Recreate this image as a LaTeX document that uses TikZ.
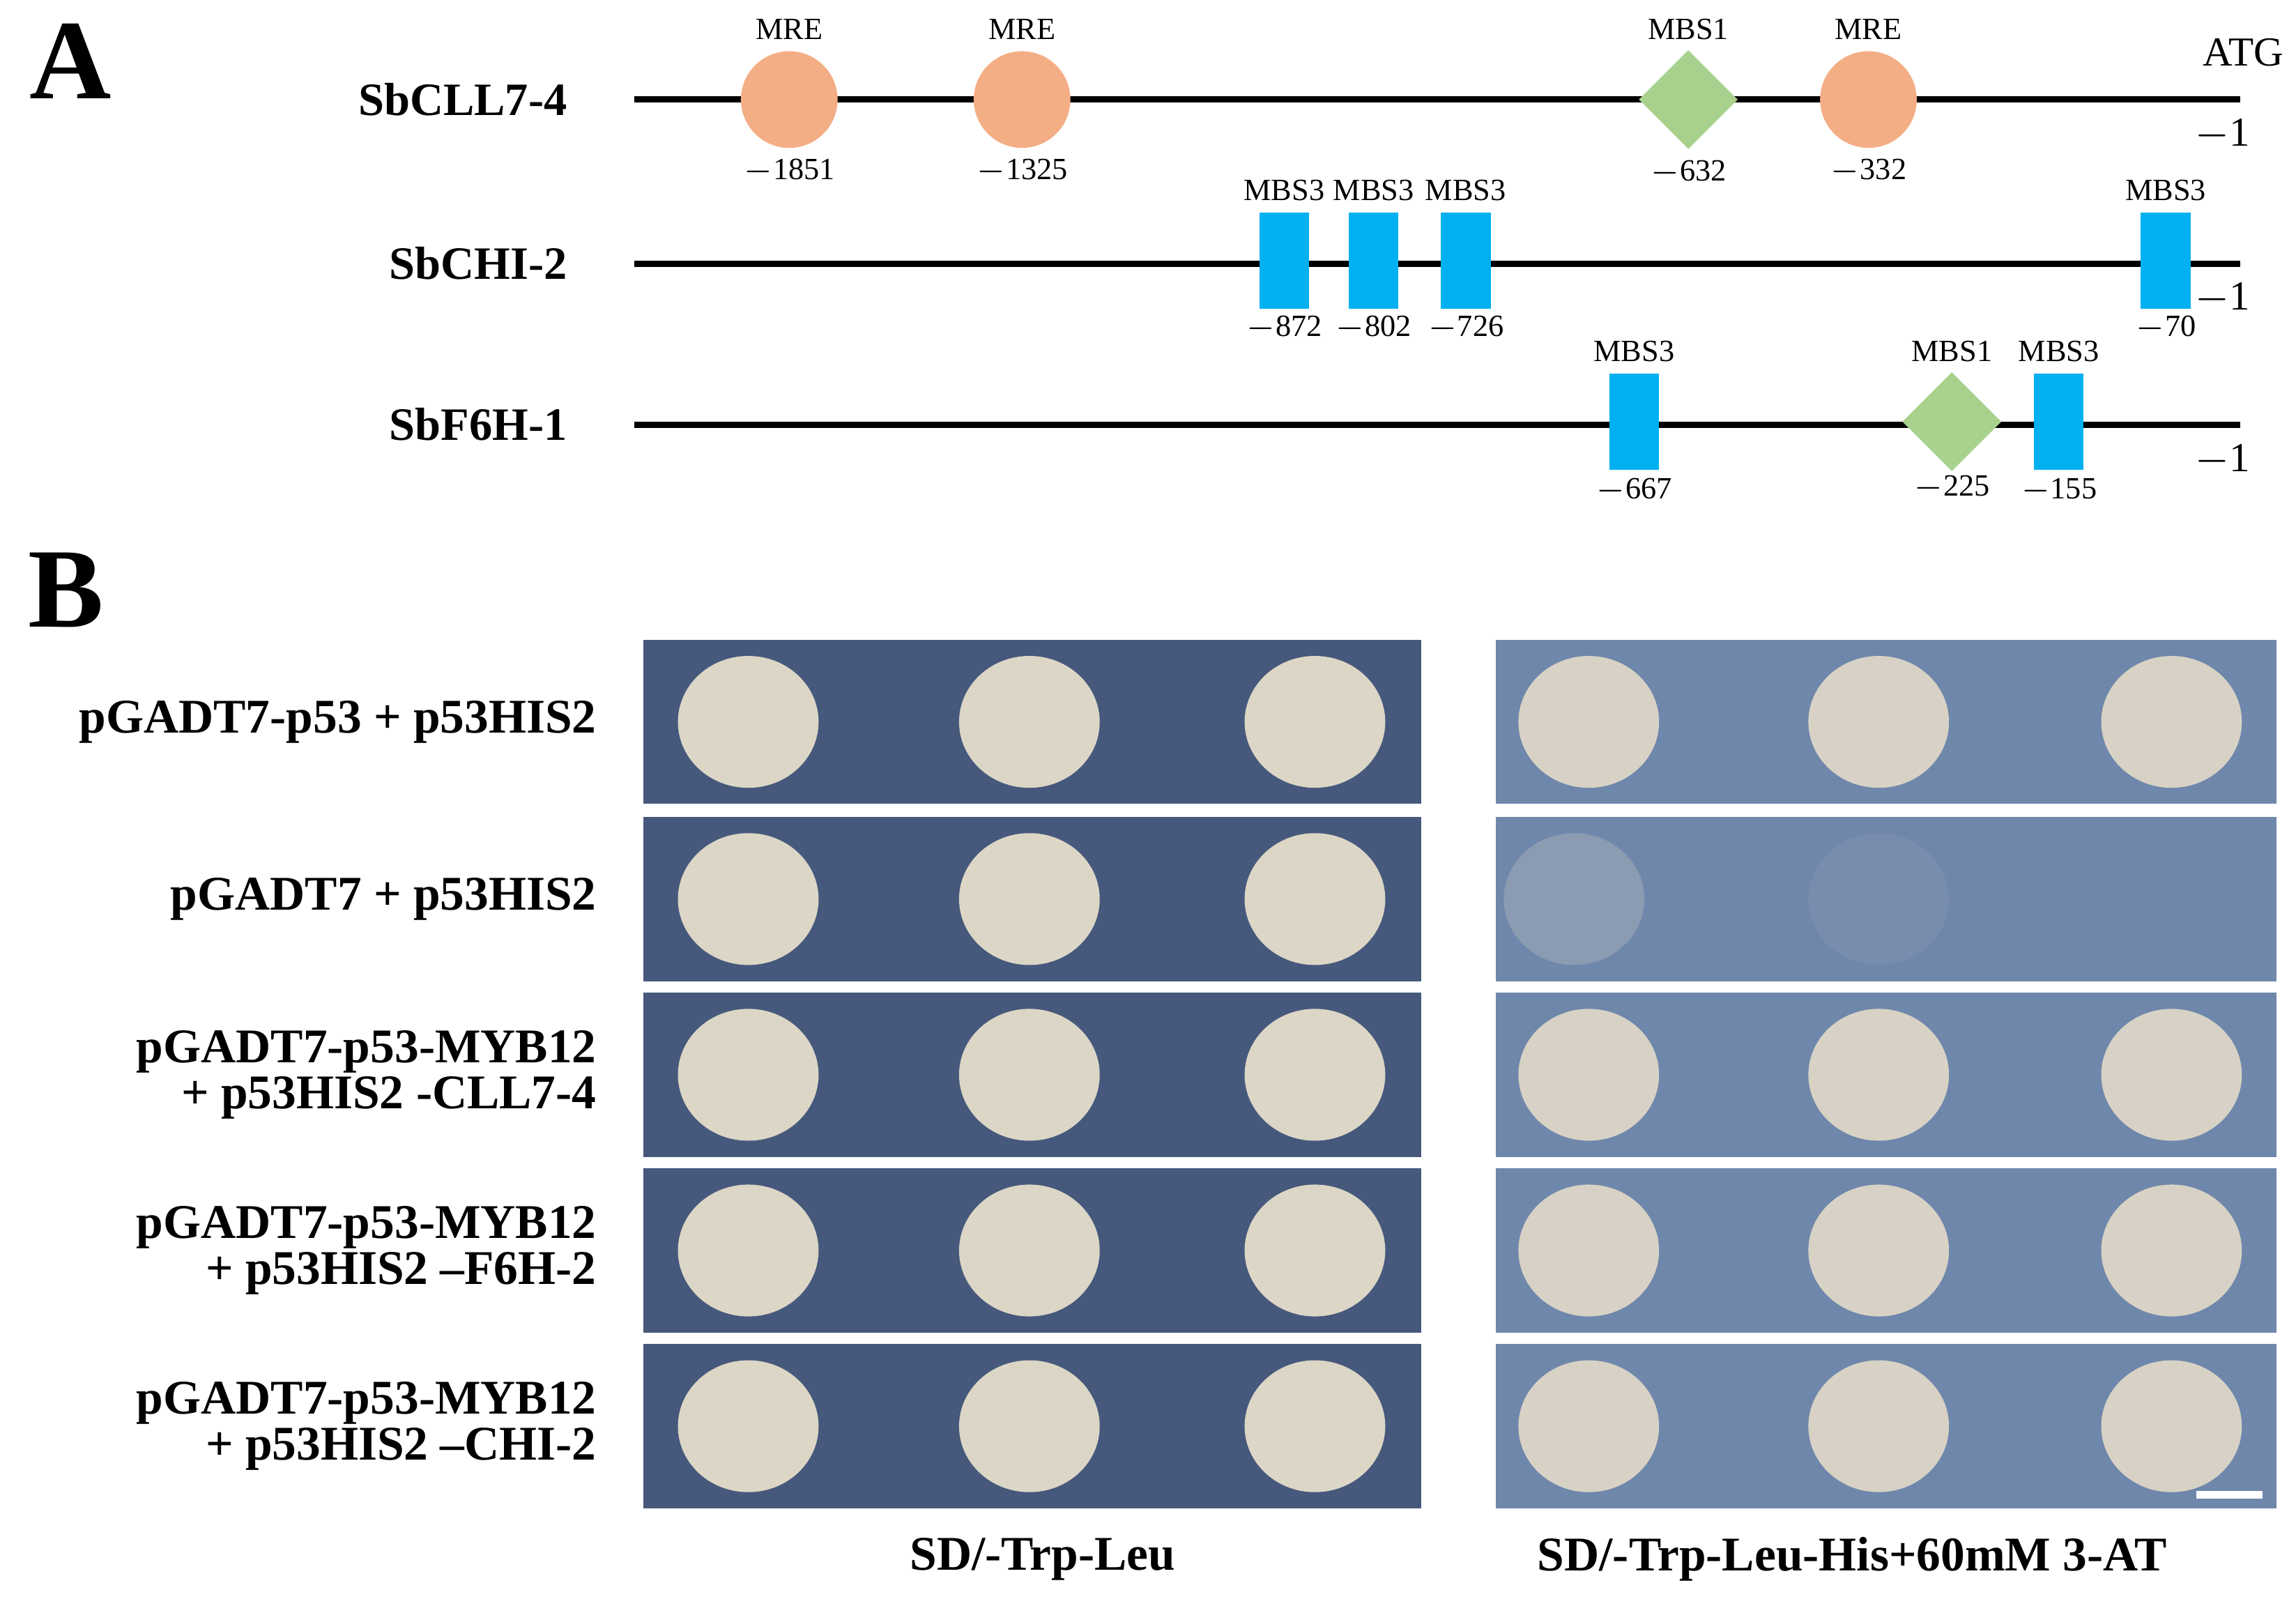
\documentclass[tikz,border=0pt]{standalone}
\usepackage{fontspec}
\setmainfont{Liberation Serif}
\usetikzlibrary{shapes.geometric}
\definecolor{mre}{HTML}{F4AE85}
\definecolor{mbsg}{HTML}{A9D18E}
\definecolor{mbsb}{HTML}{00B0F0}
\definecolor{plateL}{HTML}{46597C}
\definecolor{plateR}{HTML}{6F87AB}
\definecolor{colony}{HTML}{DCD6C6}
\tikzstyle{mre}=[circle, fill=mre, minimum size=0.66cm, inner sep=0pt]
\tikzstyle{mbsone}=[diamond, fill=mbsg, minimum size=0.68cm, inner sep=0pt]
\tikzstyle{mbsthree}=[rectangle, fill=mbsb, minimum width=0.34cm, minimum height=0.66cm, inner sep=0pt]
\tikzstyle{small}=[font=\fontsize{6}{7}\selectfont, inner sep=0pt]
\tikzstyle{gene}=[font=\fontsize{9}{9}\selectfont\bfseries, anchor=east, inner sep=0pt]
\tikzstyle{strain}=[font=\fontsize{9.4}{9}\selectfont\bfseries, anchor=east, align=right, inner sep=0pt]
\tikzstyle{plate}=[draw=none, minimum height=1.12cm, inner sep=0pt]
\tikzstyle{col}=[ellipse, fill=colony, minimum width=0.96cm, minimum height=0.9cm, inner sep=0pt]
\begin{document}
\begin{tikzpicture}[x=0.01cm, y=-0.01cm]
\useasboundingbox (0,0) rectangle (1568,1092);

	% Panel letters
	\node[font=\fontsize{22}{22}\selectfont\bfseries] (pA) at (48,42) {A};
	\node[font=\fontsize{22}{22}\selectfont\bfseries] (pB) at (45,403) {B};

	% Promoter lines
	\foreach \ypos/\lab/\name in {68/SbCLL7-4/l1, 180/SbCHI-2/l2, 290/SbF6H-1/l3}
	{
		\node[gene] (\name) at (388,\ypos) {\lab};
		\coordinate (\name s) at (433,\ypos);
		\coordinate (\name e) at (1530,\ypos);
		\draw[line width=1.2pt] (\name s) -- (\name e);
		\node[small, font=\fontsize{8}{8}\selectfont] (\name m) at (1518,\ypos+24) {$-$1};
	}
	\node[font=\fontsize{8}{8}\selectfont, inner sep=0pt] (atg) at (1532,36) {ATG};

	% SbCLL7-4
	\foreach \xpos/\pos/\lab in {539/1851/c1, 698/1325/c2, 1276/332/c3}
	{
		\node[mre] (\lab) at (\xpos,68) {};
		\node[small] (\lab t) at (\xpos,20) {MRE};
		\node[small] (\lab b) at (\xpos,117) {$-$\pos};
	}
	\node[mbsone] (c4) at (1153,68) {};
	\node[small] (c4t) at (1153,20) {MBS1};
	\node[small] (c4b) at (1153,118) {$-$632};

	% SbCHI-2
	\foreach \xpos/\pos/\lab in {877/872/h1, 938/802/h2, 1001/726/h3, 1479/70/h4}
	{
		\node[mbsthree] (\lab) at (\xpos,178) {};
		\node[small] (\lab t) at (\xpos,130) {MBS3};
		\node[small] (\lab b) at (\xpos,224) {$-$\pos};
	}

	% SbF6H-1
	\foreach \xpos/\pos/\lab in {1116/667/f1, 1406/155/f2}
	{
		\node[mbsthree] (\lab) at (\xpos,288) {};
		\node[small] (\lab t) at (\xpos,240) {MBS3};
		\node[small] (\lab b) at (\xpos,335) {$-$\pos};
	}
	\node[mbsone] (f3) at (1333,288) {};
	\node[small] (f3t) at (1333,240) {MBS1};
	\node[small] (f3b) at (1333,333) {$-$225};

	% Yeast plates
	\foreach \ypos/\lab/\name in {493/{pGADT7-p53 + p53HIS2}/r1, 614/{pGADT7 + p53HIS2}/r2,
		734/{pGADT7-p53-MYB12\\+ p53HIS2 -CLL7-4}/r3, 854/{pGADT7-p53-MYB12\\+ p53HIS2 --F6H-2}/r4,
		974/{pGADT7-p53-MYB12\\+ p53HIS2 --CHI-2}/r5}
	{
		\node[strain] (\name) at (408,\ypos) {\lab};
		\node[plate, fill=plateL, minimum width=5.31cm] (\name L) at (705,\ypos) {};
		\node[plate, fill=plateR, minimum width=5.33cm] (\name R) at (1288,\ypos) {};
		\foreach \xpos in {511,703,898}
			\node[col] at (\xpos,\ypos) {};
	}
	\foreach \ypos/\name in {493/r1, 734/r3, 854/r4, 974/r5}
		\foreach \xpos in {1085,1283,1483}
			\node[col, fill=colony!95!plateR] at (\xpos,\ypos) {};
	\node[col, fill=colony!25!plateR] (g1) at (1075,614) {};
	\node[col, fill=colony!8!plateR] (g2) at (1283,614) {};

	% Scale bar
	\coordinate (sb1) at (1500,1021);
	\coordinate (sb2) at (1545,1021);
	\draw[white, line width=1.5pt] (sb1) -- (sb2);

	\node[font=\fontsize{9.4}{9}\selectfont\bfseries] (m1) at (712,1065) {SD/-Trp-Leu};
	\node[font=\fontsize{9.4}{9}\selectfont\bfseries] (m2) at (1265,1065) {SD/-Trp-Leu-His+60mM 3-AT};
\end{tikzpicture}
\end{document}
